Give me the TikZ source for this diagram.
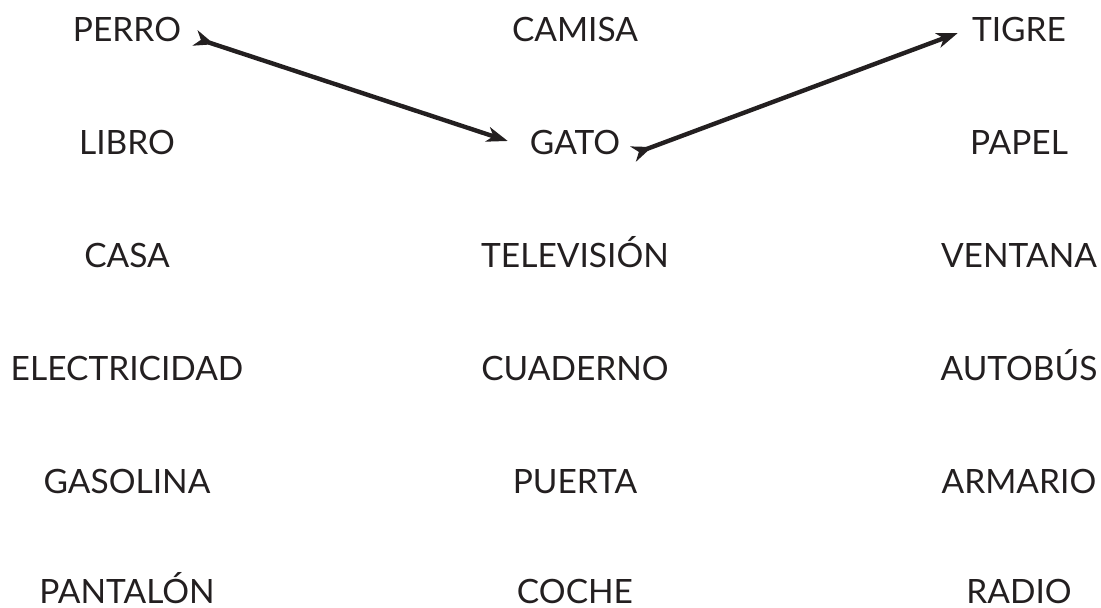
\documentclass[tikz,border=0pt]{standalone}
\usepackage{fontspec}
\setmainfont{Lato}
\usetikzlibrary{arrows.meta,calc}
\definecolor{ink}{HTML}{231F20}
\begin{document}
\begin{tikzpicture}[x=1pt,y=-1pt,
  word/.style={anchor=base,inner sep=0pt,text=ink,font=\fontsize{33.5}{40}\selectfont},
  link/.style={draw=ink,line width=4.4pt,{Stealth[reversed,length=20pt,width=16pt,inset=6pt]}-{Stealth[length=21pt,width=15pt,inset=6pt]}}]
\useasboundingbox (0,0) rectangle (1101,608);
\foreach \name/\txt/\x/\y in {
  a1/PERRO/127/41, a2/LIBRO/127/154, a3/CASA/127/267, a4/ELECTRICIDAD/127/380, a5/GASOLINA/127/493, a6/PANTALÓN/127/603,
  b1/CAMISA/575/41, b2/GATO/575/154, b3/TELEVISIÓN/575/267, b4/CUADERNO/575/380, b5/PUERTA/575/493, b6/COCHE/575/603,
  c1/TIGRE/1019/41, c2/PAPEL/1019/154, c3/VENTANA/1019/267, c4/AUTOBÚS/1019/380, c5/ARMARIO/1019/493, c6/RADIO/1019/603}
  \node[word] (\name) at (\x,\y) {\txt};
\draw[link] ($(a1.base east)+(14,-3)$) -- ($(b2.base west)+(-22,-13)$);
\draw[link] ($(b2.base east)+(13,0)$) -- ($(c1.base west)+(-14,-8)$);
\end{tikzpicture}
\end{document}
